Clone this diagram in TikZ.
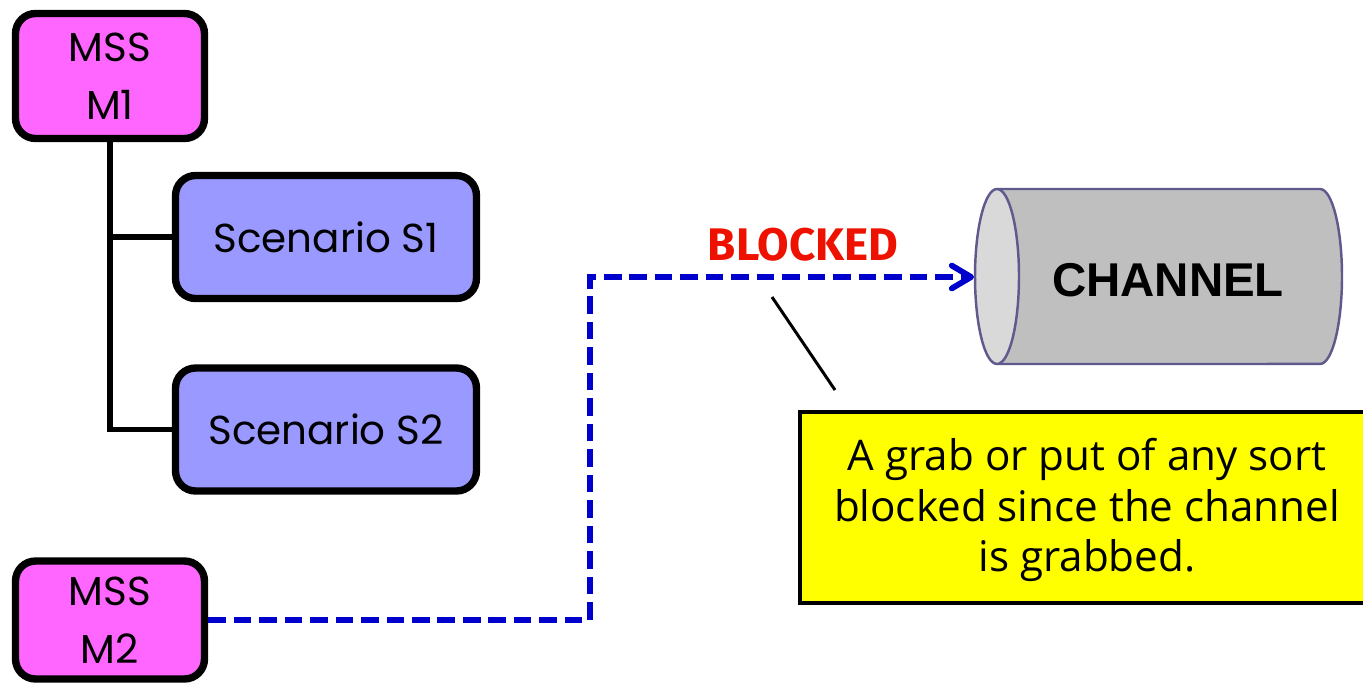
\documentclass[tikz,border=0pt]{standalone}
\usepackage{fontspec}
\setmainfont{Poppins}
\newfontfamily\blockfont{Fira Sans}
\newfontfamily\chanfont{Liberation Sans}
\newfontfamily\notefont{Open Sans}
\usetikzlibrary{arrows.meta}

\definecolor{mssfill}{HTML}{FF66FF}
\definecolor{scnfill}{HTML}{9999FF}
\definecolor{linkblue}{HTML}{0000CC}
\definecolor{blockred}{HTML}{EE1100}
\definecolor{cylbody}{HTML}{BFBFBF}
\definecolor{cylface}{HTML}{D9D9D9}
\definecolor{cylline}{HTML}{5F5A8C}
\definecolor{notefill}{HTML}{FFFF00}

\tikzset{
  box/.style={draw=black, line width=4.2pt, rounded corners=0.4cm, inner sep=0pt,
    align=center, font=\fontsize{23}{33}\selectfont},
  mss/.style={box, fill=mssfill, minimum width=3.78cm, minimum height=2.5cm},
  scn/.style={box, fill=scnfill, minimum width=6.02cm, minimum height=2.46cm},
  tree/.style={draw=black, line width=3pt},
  link/.style={draw=linkblue, line width=3.3pt, dash pattern=on 10pt off 4.5pt,
    -{Straight Barb[length=11pt, width=13pt, line width=3.3pt, round]}},
  blocked/.style={text=blockred, font=\blockfont\bfseries\fontsize{26}{30}\selectfont},
  chantext/.style={text=black, font=\chanfont\bfseries\fontsize{27}{30}\selectfont},
  cyl/.style={draw=cylline, line width=1.4pt},
  callout/.style={draw=black, line width=1.7pt},
  note/.style={draw=black, line width=2.6pt, fill=notefill, minimum width=11.4cm,
    minimum height=3.82cm},
  notetext/.style={inner sep=0pt, align=center,
    font=\notefont\fontsize{24}{28.9}\selectfont}
}

\begin{document}
\begin{tikzpicture}[x=0.02cm, y=-0.02cm]
  \useasboundingbox (0,0) rectangle (1363,684);

  % message sequence boxes and their scenarios
  \node[mss] (m1) at (110,76) {MSS\\M1};
  \node[scn] (s1) at (326,237) {Scenario S1};
  \node[scn] (s2) at (326,429.5) {Scenario S2};
  \node[mss, minimum height=2.36cm] (m2) at (110,620) {MSS\\M2};

  \draw[tree] (m1.south) |- (s2.west);
  \draw[tree] (m1.south |- s1.west) -- (s1.west);

  % the channel, drawn as a cylinder lying on its side
  \fill[cylbody] (997,189) -- (1320,189)
    arc[start angle=90, end angle=-90, x radius=0.44cm, y radius=1.75cm]
    -- (997,364) -- cycle;
  \draw[cyl] (997,189) -- (1320,189)
    arc[start angle=90, end angle=-90, x radius=0.44cm, y radius=1.75cm]
    -- (997,364);
  \filldraw[cyl, fill=cylface] (997,276.5) ellipse[x radius=0.44cm, y radius=1.75cm];
  \node[chantext] (chan) at (1168,280) {CHANNEL};
  \coordinate (chanin) at (974,277);

  % blocked request from M2 to the channel
  \coordinate (bend) at (590,277);
  \draw[link] (m2.east) -| (bend) -- (chanin);
  \node[blocked] (blk) at (803,245) {BLOCKED};

  % explanatory note with its pointer
  \node[note] (note) at (1085,507.5) {};
  \node[notetext] (notetxt) at (1087,510) {A grab or put of any sort\\blocked since the channel\\is grabbed.};
  \coordinate (ptrA) at (772,297);
  \coordinate (ptrB) at (835,390);
  \draw[callout] (ptrA) -- (ptrB);
\end{tikzpicture}
\end{document}
